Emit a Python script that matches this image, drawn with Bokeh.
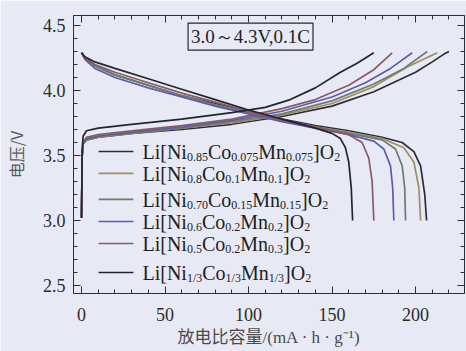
from bokeh.plotting import figure
from bokeh.models import (Label, LinearAxis, SingleIntervalTicker, PrintfTickFormatter, Range1d,
                          CustomJSTickFormatter)
from bokeh.embed import file_html
from bokeh.resources import INLINE

# ---------------- data ----------------
samples = ["Ni0.85", "Ni0.8", "Ni0.70", "Ni0.6", "Ni0.5", "Ni1/3"]
colors = ["#2a2c3a", "#a08e62", "#6f7b6c", "#5a5cb2", "#8a5a64", "#23252e"]

# charge curves (capacity mAh/g, voltage V)
chg_cap = {
    "Ni0.85": [0, 0.4, 1, 3, 10, 30, 60, 90, 120, 150, 175, 200, 210, 217, 220],
    "Ni0.8":  [0, 0.4, 1, 3, 10, 30, 60, 90, 120, 150, 175, 195, 213],
    "Ni0.70": [0, 0.4, 1, 3, 10, 30, 60, 90, 120, 150, 175, 193, 207],
    "Ni0.6":  [0, 0.4, 1, 3, 10, 30, 60, 90, 120, 150, 170, 185, 198],
    "Ni0.5":  [0, 0.4, 1, 3, 10, 30, 60, 90, 120, 140, 160, 175, 186],
    "Ni1/3":  [0, 0.4, 1, 3, 10, 30, 60, 90, 110, 125, 140, 155, 165, 175],
}
chg_v = {
    "Ni0.85": [3.02, 3.50, 3.59, 3.62, 3.64, 3.67, 3.70, 3.74, 3.80, 3.88, 3.99, 4.14, 4.22, 4.28, 4.30],
    "Ni0.8":  [3.02, 3.50, 3.59, 3.62, 3.64, 3.67, 3.71, 3.75, 3.81, 3.90, 4.03, 4.18, 4.29],
    "Ni0.70": [3.02, 3.50, 3.59, 3.62, 3.64, 3.67, 3.71, 3.76, 3.82, 3.92, 4.05, 4.17, 4.30],
    "Ni0.6":  [3.02, 3.50, 3.60, 3.63, 3.65, 3.68, 3.72, 3.77, 3.84, 3.95, 4.06, 4.17, 4.29],
    "Ni0.5":  [3.02, 3.50, 3.60, 3.64, 3.66, 3.69, 3.73, 3.78, 3.86, 3.93, 4.04, 4.16, 4.29],
    "Ni1/3":  [3.02, 3.55, 3.65, 3.69, 3.71, 3.74, 3.78, 3.83, 3.87, 3.93, 4.02, 4.14, 4.21, 4.29],
}
# discharge curves
dis_cap = {
    "Ni0.85": [0, 2, 8, 20, 40, 60, 80, 100, 120, 140, 160, 180, 192, 199, 203, 205.5, 206.6],
    "Ni0.8":  [0, 2, 8, 20, 40, 60, 80, 100, 120, 140, 160, 180, 193, 199, 202, 203],
    "Ni0.70": [0, 2, 8, 20, 40, 60, 80, 100, 120, 140, 160, 180, 188, 192, 193.5, 194],
    "Ni0.6":  [0, 2, 8, 20, 40, 60, 80, 100, 120, 140, 160, 175, 181, 185, 186.3, 187],
    "Ni0.5":  [0, 2, 8, 20, 40, 60, 80, 100, 120, 140, 160, 168, 172, 174, 175],
    "Ni1/3":  [0, 2, 8, 20, 40, 60, 80, 100, 120, 140, 150, 155, 158, 160, 161.5, 162.3],
}
dis_v = {
    "Ni0.85": [4.29, 4.25, 4.19, 4.12, 4.04, 3.96, 3.90, 3.84, 3.78, 3.73, 3.69, 3.64, 3.60, 3.53, 3.42, 3.20, 3.00],
    "Ni0.8":  [4.29, 4.25, 4.19, 4.12, 4.04, 3.96, 3.89, 3.83, 3.77, 3.72, 3.68, 3.63, 3.56, 3.45, 3.25, 3.00],
    "Ni0.70": [4.29, 4.25, 4.19, 4.12, 4.04, 3.96, 3.89, 3.83, 3.77, 3.72, 3.67, 3.62, 3.55, 3.42, 3.25, 3.00],
    "Ni0.6":  [4.29, 4.24, 4.17, 4.10, 4.02, 3.95, 3.88, 3.82, 3.76, 3.71, 3.66, 3.61, 3.55, 3.42, 3.25, 3.00],
    "Ni0.5":  [4.29, 4.25, 4.20, 4.14, 4.06, 3.98, 3.91, 3.84, 3.77, 3.72, 3.66, 3.60, 3.48, 3.30, 3.00],
    "Ni1/3":  [4.29, 4.26, 4.22, 4.17, 4.09, 4.01, 3.93, 3.85, 3.78, 3.71, 3.67, 3.63, 3.56, 3.45, 3.25, 3.00],
}

# legend formulas: (text, is_subscript)
legend_parts = [
    [("Li[Ni", 0), ("0.85", 1), ("Co", 0), ("0.075", 1), ("Mn", 0), ("0.075", 1), ("]O", 0), ("2", 1)],
    [("Li[Ni", 0), ("0.8", 1), ("Co", 0), ("0.1", 1), ("Mn", 0), ("0.1", 1), ("]O", 0), ("2", 1)],
    [("Li[Ni", 0), ("0.70", 1), ("Co", 0), ("0.15", 1), ("Mn", 0), ("0.15", 1), ("]O", 0), ("2", 1)],
    [("Li[Ni", 0), ("0.6", 1), ("Co", 0), ("0.2", 1), ("Mn", 0), ("0.2", 1), ("]O", 0), ("2", 1)],
    [("Li[Ni", 0), ("0.5", 1), ("Co", 0), ("0.2", 1), ("Mn", 0), ("0.3", 1), ("]O", 0), ("2", 1)],
    [("Li[Ni", 0), ("1/3", 1), ("Co", 0), ("1/3", 1), ("Mn", 0), ("1/3", 1), ("]O", 0), ("2", 1)],
]
legend_rows_v = [3.531, 3.362, 3.162, 2.992, 2.823, 2.600]
legend_line_x = (10.2, 31.1)
legend_text_x = 36.5

x_ticks = [0, 50, 100, 150, 200]
y_ticks = [2.5, 3.0, 3.5, 4.0, 4.5]
condition_text = "3.0～4.3V,0.1C"
x_label = "放电比容量/(mA · h · g⁻¹)"
y_label = "电压/V"

# ---------------- styling ----------------
BG = "#e7eaf5"
SERIF = "Liberation Serif"
AX = "#2e2e35"

p = figure(width=466, height=351, x_range=Range1d(-4.8, 229.3), y_range=Range1d(2.438, 4.577),
           output_backend="svg", toolbar_location=None,
           min_border_left=73, min_border_right=2, min_border_top=15, min_border_bottom=58,
           background_fill_color=BG, border_fill_color=BG, outline_line_color=AX)
p.grid.visible = False

def style_axis(ax, ticker, show_labels):
    ax.ticker = ticker
    ax.axis_line_color = AX
    ax.major_tick_line_color = AX
    ax.minor_tick_line_color = AX
    ax.major_tick_in = 7
    ax.major_tick_out = 0
    ax.minor_tick_in = 4
    ax.minor_tick_out = 0
    if show_labels:
        ax.major_label_text_font = SERIF
        ax.major_label_text_font_size = "18px"
        ax.major_label_text_color = "#2a2a2a"
    else:
        ax.formatter = CustomJSTickFormatter(code="return ''")
        ax.major_label_text_font_size = "1px"
        ax.major_label_standoff = 0

style_axis(p.xaxis[0], SingleIntervalTicker(interval=50, num_minor_ticks=5), True)
style_axis(p.yaxis[0], SingleIntervalTicker(interval=0.5, num_minor_ticks=5), True)
p.yaxis[0].formatter = PrintfTickFormatter(format="%.1f")
p.xaxis[0].major_label_standoff = 14
p.yaxis[0].major_label_standoff = 8
p.xaxis[0].axis_label = x_label
p.yaxis[0].axis_label = y_label
p.xaxis[0].axis_label_text_font = "'Liberation Serif', 'Noto Sans CJK SC'"
p.yaxis[0].axis_label_text_font = "'Noto Sans CJK SC'"
p.xaxis[0].axis_label_text_font_style = "normal"
p.yaxis[0].axis_label_text_font_style = "normal"
p.xaxis[0].axis_label_text_font_size = "17px"
p.yaxis[0].axis_label_text_font_size = "16px"
p.xaxis[0].axis_label_text_color = "#4a4a4a"
p.yaxis[0].axis_label_text_color = "#5a5a5a"
p.xaxis[0].axis_label_standoff = 4
p.yaxis[0].axis_label_standoff = 12

top = LinearAxis()
right = LinearAxis()
style_axis(top, SingleIntervalTicker(interval=50, num_minor_ticks=5), False)
style_axis(right, SingleIntervalTicker(interval=0.5, num_minor_ticks=5), False)
p.add_layout(top, "above")
p.add_layout(right, "right")

# curves
for s, c in zip(samples, colors):
    p.line(chg_cap[s], chg_v[s], line_color=c, line_width=1.7)
    p.line(dis_cap[s], dis_v[s], line_color=c, line_width=1.7)

# legend
W = {'L': 611, 'i': 278, '[': 333, 'N': 722, 'C': 667, 'o': 500, 'M': 889, 'n': 500,
     ']': 333, 'O': 722, '.': 250, '/': 278}
F_MAIN, F_SUB = 20, 12
def adv(t, size):
    return sum(W.get(ch, 500) for ch in t) * size / 1000.0

for parts, yv, c in zip(legend_parts, legend_rows_v, colors):
    p.segment([legend_line_x[0]], [yv], [legend_line_x[1]], [yv], line_color=c, line_width=1.6)
    off = 0.0
    for t, sub in parts:
        size = F_SUB if sub else F_MAIN
        lab = Label(x=legend_text_x, y=yv, x_offset=off, y_offset=(-6 if sub else -1),
                    text=t, text_font=SERIF, text_font_size=f"{size}px", text_color="#1e1e24",
                    text_baseline="alphabetic", text_align="left")
        p.add_layout(lab)
        off += adv(t, size)

# condition box
p.add_layout(Label(x=101.2, y=4.415, text=condition_text, text_font=SERIF, text_font_size="19px",
                   text_color="#1e1e24", text_align="center", text_baseline="middle",
                   border_line_color="#2a2a2a", border_line_width=1.2,
                   background_fill_color=BG, padding=3))

open("out.html", "w").write(file_html(p, INLINE))
